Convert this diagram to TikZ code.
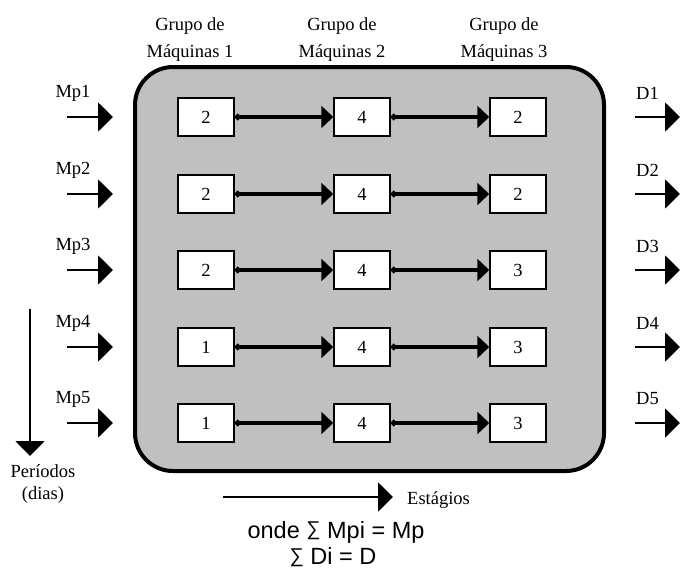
\documentclass[tikz,border=0pt]{standalone}
\usepackage{fontspec}
\setmainfont{Liberation Serif}
\setsansfont{Liberation Sans}
\usetikzlibrary{arrows.meta}

\definecolor{cinza}{RGB}{192,192,192}
\newcommand{\somat}{\raisebox{0.1em}{\scalebox{0.85}{∑}}}

\begin{document}
\begin{tikzpicture}[x=1pt,y=-1pt,
  font=\fontsize{18.5}{27}\selectfont,
  caixa/.style={draw,fill=white,line width=1.5pt,minimum width=56pt,minimum height=38pt,inner sep=0pt},
  fluxo/.style={line width=3.5pt,{Circle[length=6pt]}-{Triangle[length=12pt,width=22pt]}},
  seta/.style={line width=2pt,-{Triangle[length=15pt,width=29pt]}}]
\useasboundingbox (0,0) rectangle (680,571);

\draw[fill=cinza,line width=4pt,rounded corners=38pt] (135,67) rectangle (604,471);

% grupos de maquinas
\node[align=center] (g1) at (190,40) {Grupo de\\Máquinas 1};
\node[align=center] (g2) at (342,40) {Grupo de\\Máquinas 2};
\node[align=center] (g3) at (504,40) {Grupo de\\Máquinas 3};

% caixas
\node[caixa] (c11) at (206,117) {2};
\node[caixa] (c12) at (362,117) {4};
\node[caixa] (c13) at (518,117) {2};

\node[caixa] (c21) at (206,194) {2};
\node[caixa] (c22) at (362,194) {4};
\node[caixa] (c23) at (518,194) {2};

\node[caixa] (c31) at (206,270) {2};
\node[caixa] (c32) at (362,270) {4};
\node[caixa] (c33) at (518,270) {3};

\node[caixa] (c41) at (206,347) {1};
\node[caixa] (c42) at (362,347) {4};
\node[caixa] (c43) at (518,347) {3};

\node[caixa] (c51) at (206,423) {1};
\node[caixa] (c52) at (362,423) {4};
\node[caixa] (c53) at (518,423) {3};

\draw[fluxo] (c11.east) -- (c12.west);
\draw[fluxo] (c12.east) -- (c13.west);
\draw[fluxo] (c21.east) -- (c22.west);
\draw[fluxo] (c22.east) -- (c23.west);
\draw[fluxo] (c31.east) -- (c32.west);
\draw[fluxo] (c32.east) -- (c33.west);
\draw[fluxo] (c41.east) -- (c42.west);
\draw[fluxo] (c42.east) -- (c43.west);
\draw[fluxo] (c51.east) -- (c52.west);
\draw[fluxo] (c52.east) -- (c53.west);

% entradas Mp
\node (mp1) at (73,93) {Mp1};
\node (mp2) at (73,170) {Mp2};
\node (mp3) at (73,246) {Mp3};
\node (mp4) at (73,323) {Mp4};
\node (mp5) at (73,399) {Mp5};
\coordinate (e1a) at (67,117);  \coordinate (e1b) at (113,117);
\coordinate (e2a) at (67,194);  \coordinate (e2b) at (113,194);
\coordinate (e3a) at (67,270);  \coordinate (e3b) at (113,270);
\coordinate (e4a) at (67,347);  \coordinate (e4b) at (113,347);
\coordinate (e5a) at (67,423);  \coordinate (e5b) at (113,423);
\draw[seta] (e1a) -- (e1b);
\draw[seta] (e2a) -- (e2b);
\draw[seta] (e3a) -- (e3b);
\draw[seta] (e4a) -- (e4b);
\draw[seta] (e5a) -- (e5b);

% saidas D
\node[anchor=west,inner sep=0pt] (d1) at (636,93) {D1};
\node[anchor=west,inner sep=0pt] (d2) at (636,170) {D2};
\node[anchor=west,inner sep=0pt] (d3) at (636,246) {D3};
\node[anchor=west,inner sep=0pt] (d4) at (636,323) {D4};
\node[anchor=west,inner sep=0pt] (d5) at (636,399) {D5};
\coordinate (s1a) at (635,117);  \coordinate (s1b) at (680,117);
\coordinate (s2a) at (635,194);  \coordinate (s2b) at (680,194);
\coordinate (s3a) at (635,270);  \coordinate (s3b) at (680,270);
\coordinate (s4a) at (635,347);  \coordinate (s4b) at (680,347);
\coordinate (s5a) at (635,423);  \coordinate (s5b) at (680,423);
\draw[seta] (s1a) -- (s1b);
\draw[seta] (s2a) -- (s2b);
\draw[seta] (s3a) -- (s3b);
\draw[seta] (s4a) -- (s4b);
\draw[seta] (s5a) -- (s5b);

% periodos e estagios
\coordinate (p1) at (30,309);
\coordinate (p2) at (30,456);
\draw[seta] (p1) -- (p2);
\node[align=center,font=\fontsize{18.5}{22}\selectfont] (per) at (43,484) {Períodos\\(dias)};

\coordinate (t1) at (223,497);
\coordinate (t2) at (393,497);
\draw[seta] (t1) -- (t2);
\node[anchor=west,inner sep=0pt] (est) at (407,500) {Estágios};

\node[font=\sffamily\fontsize{23.5}{25}\selectfont] (onde) at (336,532) {onde \somat{} Mpi = Mp};
\node[font=\sffamily\fontsize{23.5}{25}\selectfont] (soma) at (333,557) {\somat{} Di = D};

\end{tikzpicture}
\end{document}
